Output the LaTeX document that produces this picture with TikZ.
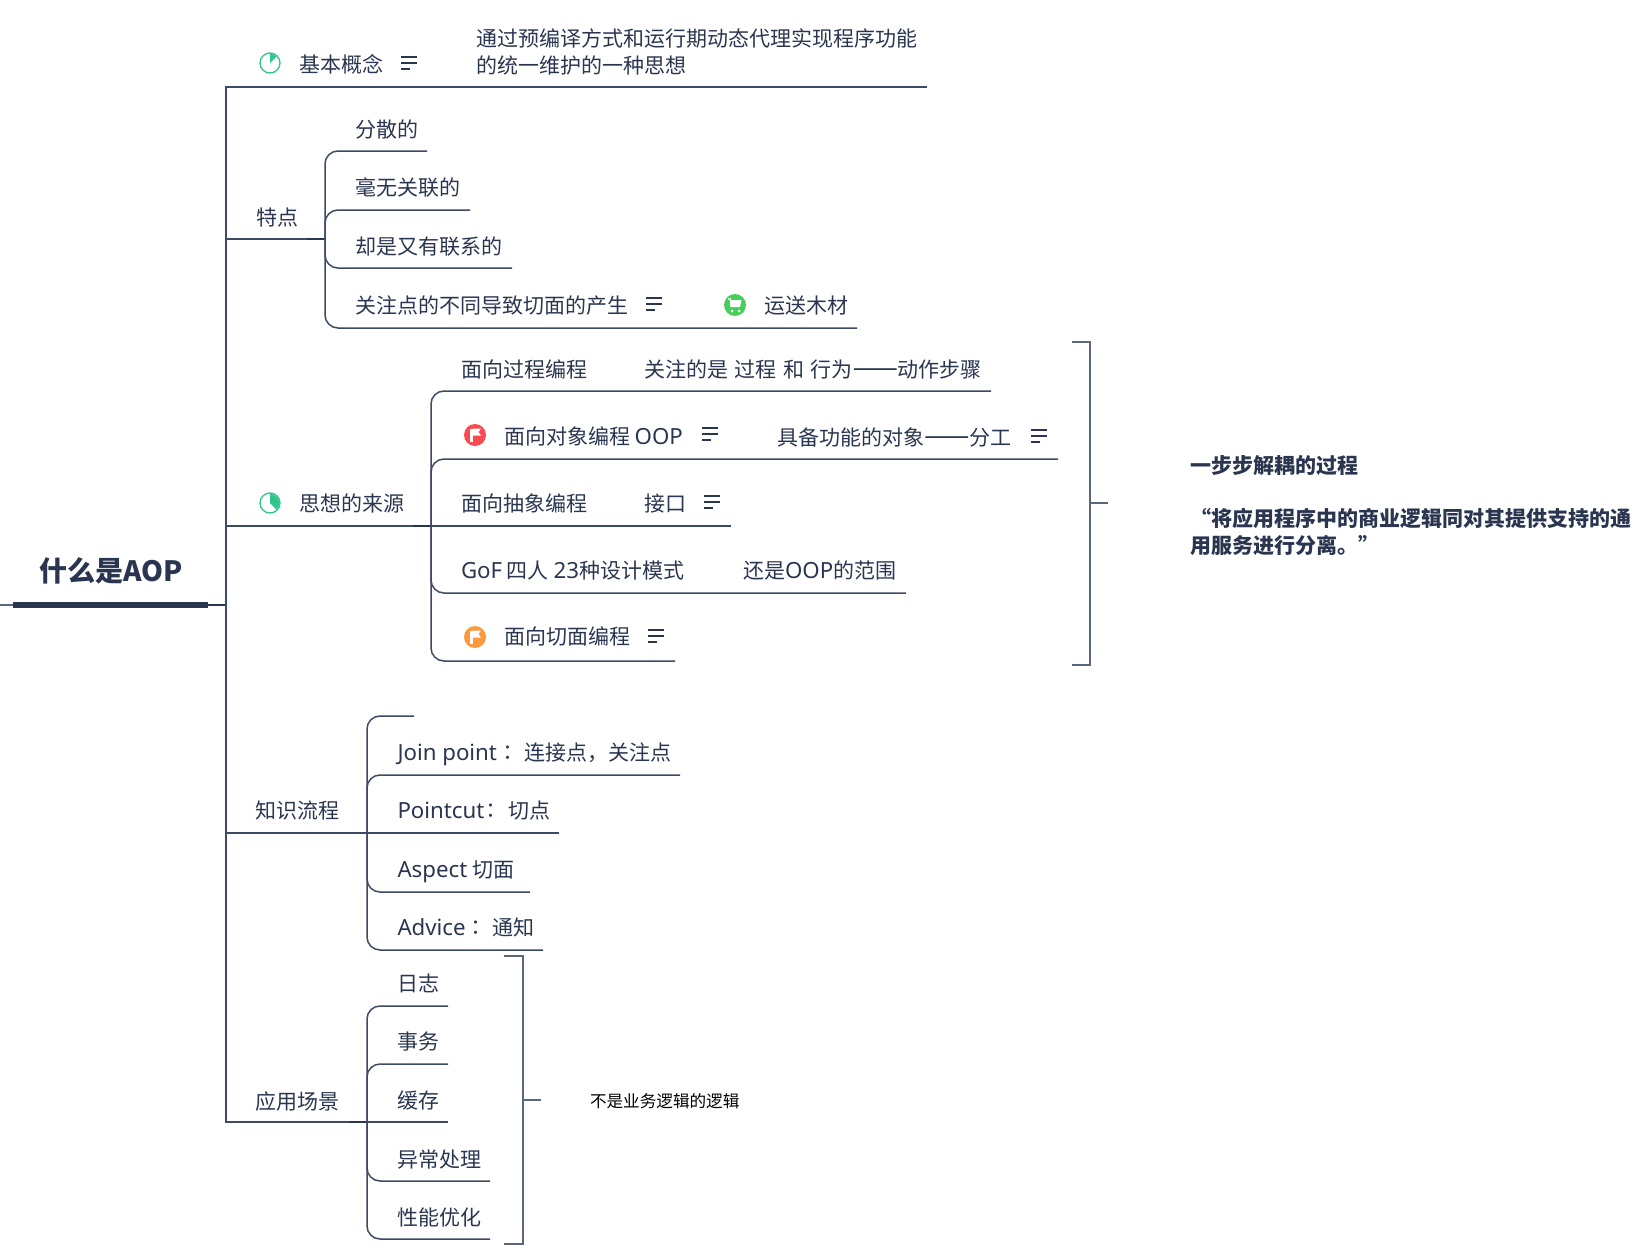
\documentclass[tikz,border=0pt]{standalone}
\usepackage{fontspec}
\setmainfont{Noto Sans CJK SC}
\newfontfamily\latn[Scale=1.06]{Noto Sans}
\newfontfamily\tcpunct{Noto Sans CJK TC}
\newfontfamily\fwdash[RawFeature=+fwid,FakeBold=3,FakeStretch=1.08]{Noto Sans CJK SC}
\newcommand{\cncolon}{{\tcpunct ：}\hspace*{1.5pt}}
\newcommand{\longdash}{{\fwdash ——}}
\newcommand{\wsp}{\hspace*{6.5pt}}
\definecolor{ink}{HTML}{2A3650}
\definecolor{wire}{HTML}{3E4A63}
\definecolor{brace}{HTML}{5C667C}
\definecolor{piegreen}{HTML}{2DC68A}
\definecolor{flagred}{HTML}{F84A50}
\definecolor{flagorange}{HTML}{FA9A3C}
\definecolor{cartgreen}{HTML}{48CE5A}
\tikzset{
  lbl/.style={anchor=base west,inner sep=0pt,outer sep=0pt,yshift=-8pt,text=ink,
    font=\fontsize{21}{27}\selectfont},
  para/.style={anchor=west,inner sep=0pt,outer sep=0pt,text=ink,align=left,
    font=\fontsize{21}{27}\selectfont},
  link/.style={draw=wire,line width=1.5pt,rounded corners=13pt},
  trunk/.style={draw=wire,line width=1.8pt},
  stub/.style={draw=ink,line width=2.4pt},
  bracket/.style={draw=brace,line width=1.7pt},
  pics/notemark/.style={code={
    \draw[ink,line width=1.3pt] (0,-6)--(16,-6) (0,0)--(16,0) (0,6)--(9,6);
  }},
  pics/pieicon/.style={code={
    \begin{scope}[y=1pt]
      \draw[piegreen,line width=1.3pt,fill=white] (0,0) circle[radius=10];
      \fill[piegreen] (0,0)--(0,9.2) arc[start angle=90,end angle=#1,radius=9.2]--cycle;
    \end{scope}
  }},
  pics/flagicon/.style={code={
    \begin{scope}[y=1pt]
      \fill[#1] (0,0) circle[radius=11];
      \fill[white] (-5,-7) rectangle (-2.5,6.5);
      \fill[white] (-2.5,6.5)--(6,6.5)--(3.5,3)--(6,-0.5)--(-2.5,-0.5)--cycle;
    \end{scope}
  }},
  pics/carticon/.style={code={
    \begin{scope}[y=1pt]
      \fill[cartgreen] (0,0) circle[radius=11];
      \draw[white,line width=1.3pt] (-7,6)--(-4.5,6)--(-4,-2);
      \fill[white] (-4,5)--(6.5,5)--(5,-2)--(-4,-2)--cycle;
      \fill[white] (-3,-6) circle[radius=1.5] (4,-6) circle[radius=1.5];
    \end{scope}
  }},
}
\begin{document}
\begin{tikzpicture}[x=1pt,y=-1pt]
\useasboundingbox (0,0) rectangle (1647,1255);

% root topic
\node[anchor=base west,inner sep=0pt,text=ink,font=\fontsize{28}{28}\selectfont\bfseries] (root) at (39,581) {什么是AOP};
\coordinate (rootL) at (13,605);
\coordinate (rootR) at (208,605);
\coordinate (edge) at (0,605);
\coordinate (rootHub) at (226,605);
\draw[draw=brace,line width=1.5pt] (edge)--(rootL);
\draw[draw=ink,line width=6pt] (rootL)--(rootR);
\draw[draw=ink,line width=2pt] (rootR)--(rootHub);

% trunk and first-level underlines
\coordinate (tTop) at (226,87);
\coordinate (tBot) at (226,1122);
\coordinate (e1) at (927,87);
\coordinate (h2) at (325,239);
\coordinate (h3) at (431,526);
\coordinate (h4) at (367,833);
\coordinate (h5) at (367,1122);
\coordinate (t2) at (226,239);
\coordinate (t3) at (226,526);
\coordinate (t4) at (226,833);
\draw[trunk] (e1)--(tTop)--(tBot)--(h5);
\draw[trunk] (t2)--(h2);
\draw[trunk] (t3)--(h3);
\draw[trunk] (t4)--(h4);

% basic concept
\pic at (270,63) {pieicon=45};
\node[lbl] (n1) at (299,65) {基本概念};
\pic at (401,63) {notemark};
\node[para] (n1d) at (476,51.5) {通过预编译方式和运行期动态代理实现程序功能\\的统一维护的一种思想};

% characteristics
\node[lbl] (n2) at (256,217) {特点};
\coordinate (s2) at (307,239);
\draw[stub] (s2)--(h2);
\coordinate (e21) at (427,151);
\coordinate (e22) at (470,210);
\coordinate (e23) at (512,268);
\coordinate (e24) at (857,328);
\foreach \e in {e21,e22,e23,e24} \draw[link] (h2) |- (\e);
\node[lbl] (n21) at (355,129) {分散的};
\node[lbl] (n22) at (355,187) {毫无关联的};
\node[lbl] (n23) at (355,246) {却是又有联系的};
\node[lbl] (n24) at (355,305) {关注点的不同导致切面的产生};
\pic at (646,304) {notemark};
\pic at (735,305) {carticon};
\node[lbl] (n24b) at (764,305) {运送木材};

% origin of the idea
\pic at (270,503) {pieicon=-45};
\node[lbl] (n3) at (299,503) {思想的来源};
\coordinate (s3) at (413,526);
\draw[stub] (s3)--(h3);
\coordinate (e31) at (991,391);
\coordinate (e32) at (1058,459);
\coordinate (e33) at (731,526);
\coordinate (e34) at (906,593);
\coordinate (e35) at (675,661);
\foreach \e in {e31,e32,e34,e35} \draw[link] (h3) |- (\e);
\draw[link] (h3)--(e33);
\node[lbl] (n31) at (461,369) {面向过程编程};
\node[lbl] (n31b) at (644,369) {关注的是\wsp 过程\wsp 和\wsp 行为\longdash 动作步骤};
\pic at (475,435) {flagicon=flagred};
\node[lbl] (n32) at (504,436) {面向对象编程 {\latn OOP}};
\pic at (702,434) {notemark};
\node[lbl] (n32b) at (777,437) {具备功能的对象\longdash 分工};
\pic at (1031,436) {notemark};
\node[lbl] (n33) at (461,503) {面向抽象编程};
\node[lbl] (n33b) at (644,503) {接口};
\pic at (704,502) {notemark};
\node[lbl] (n34) at (461,570) {{\latn GoF} 四人 {\latn 23}种设计模式};
\node[lbl] (n34b) at (743,570) {还是{\latn OOP}的范围};
\pic at (475,637) {flagicon=flagorange};
\node[lbl] (n35) at (504,636) {面向切面编程};
\pic at (648,636) {notemark};

% summary bracket around the origin branch
\coordinate (b1a) at (1072,342);
\coordinate (b1b) at (1090,342);
\coordinate (b1c) at (1090,665);
\coordinate (b1d) at (1072,665);
\coordinate (b1m) at (1090,503);
\coordinate (b1e) at (1108,503);
\draw[bracket] (b1a)--(b1b)--(b1c)--(b1d);
\draw[bracket] (b1m)--(b1e);
\node[para,font=\fontsize{21}{27}\selectfont\bfseries] (sum1) at (1190,506) {一步步解耦的过程\\[26pt]“将应用程序中的商业逻辑同对其提供支持的通\\用服务进行分离。”};

% knowledge flow
\node[lbl] (n4) at (255,810) {知识流程};
\coordinate (e41) at (414,716);
\coordinate (e42) at (680,775);
\coordinate (e43) at (559,833);
\coordinate (e44) at (530,892);
\coordinate (e45) at (543,950);
\foreach \e in {e41,e42,e44,e45} \draw[link] (h4) |- (\e);
\draw[link] (h4)--(e43);
\node[lbl] (n42) at (397.5,752) {{\latn Join point}\cncolon{} 连接点，关注点};
\node[lbl] (n43) at (397.5,810) {{\latn Pointcut}\hspace*{-3.5pt}\cncolon{} 切点};
\node[lbl] (n44) at (397.5,869) {{\latn Aspect} 切面};
\node[lbl] (n45) at (397.5,927) {{\latn Advice}\cncolon{} 通知};

% application scenarios
\node[lbl] (n5) at (255,1101) {应用场景};
\coordinate (s5) at (349,1122);
\draw[stub] (s5)--(h5);
\coordinate (e51) at (448,1006);
\coordinate (e52) at (448,1064);
\coordinate (e53) at (448,1122);
\coordinate (e54) at (490,1181);
\coordinate (e55) at (490,1239);
\foreach \e in {e51,e52,e54,e55} \draw[link] (h5) |- (\e);
\draw[link] (h5)--(e53);
\node[lbl] (n51) at (397,983) {日志};
\node[lbl] (n52) at (397,1041) {事务};
\node[lbl] (n53) at (397,1100) {缓存};
\node[lbl] (n54) at (397,1159) {异常处理};
\node[lbl] (n55) at (397,1217) {性能优化};

% summary bracket around the scenarios
\coordinate (b2a) at (504,956);
\coordinate (b2b) at (523,956);
\coordinate (b2c) at (523,1244);
\coordinate (b2d) at (504,1244);
\coordinate (b2m) at (523,1100);
\coordinate (b2e) at (541,1100);
\draw[bracket] (b2a)--(b2b)--(b2c)--(b2d);
\draw[bracket] (b2m)--(b2e);
\node[lbl,text=black,yshift=1.7pt,font=\fontsize{16.6}{20}\selectfont] (n6) at (590,1101) {不是业务逻辑的逻辑};
\end{tikzpicture}
\end{document}
